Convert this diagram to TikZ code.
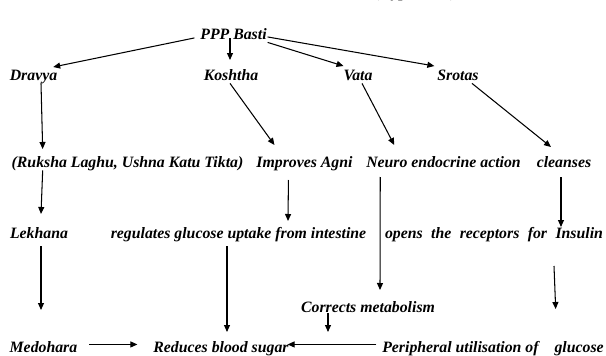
\documentclass[tikz,border=0pt]{standalone}
\usepackage{fontspec}
\setmainfont{Liberation Serif}
\usetikzlibrary{arrows.meta}
\begin{document}
\begin{tikzpicture}[x=1pt,y=-1pt,
  lbl/.style={anchor=base,inner sep=0pt,outer sep=0pt,text height=10.5pt,text depth=3.4pt,
    font=\fontsize{15.8pt}{18pt}\selectfont\bfseries\itshape},
  arr/.style={line width=1.05pt,-{Triangle[length=7pt,width=6pt]}},
  ln/.style={line width=1.05pt}]
\useasboundingbox[fill=white] (0,0) rectangle (606,356);
% nodes
\node[lbl] (hyp) at (416,-2.3) {(Hypothesis)};
\node[lbl] (ppp) at (233.5,39) {PPP Basti};
\node[lbl] (dravya) at (33.5,80) {Dravya};
\node[lbl] (koshtha) at (231,80) {Koshtha};
\node[lbl] (vata) at (358,80) {Vata};
\node[lbl] (srotas) at (458,80) {Srotas};
\node[lbl] (ruksha) at (127.5,167) {(Ruksha Laghu, Ushna Katu Tikta)};
\node[lbl] (agni) at (304.5,167) {Improves Agni};
\node[lbl] (neuro) at (443.5,167) {Neuro endocrine action};
\node[lbl] (cleanses) at (564,167) {cleanses};
\node[lbl] (lekhana) at (39,238) {Lekhana};
\node[lbl] (regul) at (238.5,238) {regulates glucose uptake from intestine};
\node[lbl] (opens) at (494,238) {\makebox[218pt][s]{opens the receptors for Insulin}};
\node[lbl] (corrects) at (368,312) {Corrects metabolism};
\node[lbl] (medohara) at (43.5,352) {Medohara};
\node[lbl] (reduces) at (221,352) {Reduces blood sugar};
\node[lbl] (periph) at (493,352) {Peripheral utilisation of\hspace{12pt} glucose};
% connectors
\draw[arr] ([shift={(-6pt,-2.5pt)}]ppp.west) -- ([shift={(-4pt,2.5pt)}]dravya.north east);
\draw[arr] ([shift={(-3.5pt,4pt)}]ppp.south) -- ([shift={(-1pt,9.5pt)}]koshtha.north);
\draw[arr] ([shift={(1pt,0pt)}]ppp.south east) -- ([shift={(0pt,3.5pt)}]vata.north west);
\draw[arr] ([shift={(1pt,-1.5pt)}]ppp.east) -- ([shift={(-3pt,3.5pt)}]srotas.north west);
\draw[arr] ([shift={(7.5pt,0pt)}]dravya.south) -- ([shift={(31pt,7.5pt)}]ruksha.north west);
\draw[arr] ([shift={(-1pt,0pt)}]koshtha.south) -- ([shift={(18pt,11.5pt)}]agni.north west);
\draw[arr] ([shift={(4pt,0pt)}]vata.south) -- ([shift={(28pt,11.5pt)}]neuro.north west);
\draw[arr] ([shift={(14pt,0pt)}]srotas.south) -- ([shift={(-13pt,9.5pt)}]cleanses.north);
\draw[arr] ([shift={(31pt,0pt)}]ruksha.south west) -- ([shift={(2pt,13.5pt)}]lekhana.north);
\draw[arr] ([shift={(32pt,-9.6pt)}]agni.south west) -- ([shift={(49.5pt,6.5pt)}]regul.north);
\draw[arr] ([shift={(14pt,-6.6pt)}]neuro.south west) -- ([shift={(12pt,11.5pt)}]corrects.north);
\draw[arr] ([shift={(-3pt,-6.6pt)}]cleanses.south) -- ([shift={(-42pt,0.5pt)}]opens.north east);
\draw[arr] ([shift={(2pt,-4.6pt)}]lekhana.south) -- ([shift={(-2.5pt,31.5pt)}]medohara.north);
\draw[arr] ([shift={(-11.5pt,-4.6pt)}]regul.south) -- ([shift={(6pt,9.5pt)}]reduces.north);
\draw[arr] ([shift={(-49pt,-24.6pt)}]opens.south east) -- ([shift={(-48pt,32.5pt)}]periph.north east);
\draw[arr] ([shift={(-40pt,2.4pt)}]corrects.south) -- ++(0,19);
\draw[arr] ([shift={(12pt,4pt)}]medohara.east) -- ([shift={(-16pt,4pt)}]reduces.west);
\draw[arr] ([shift={(-6pt,4pt)}]periph.west) -- ([shift={(-1pt,4pt)}]reduces.east);
\end{tikzpicture}
\end{document}
